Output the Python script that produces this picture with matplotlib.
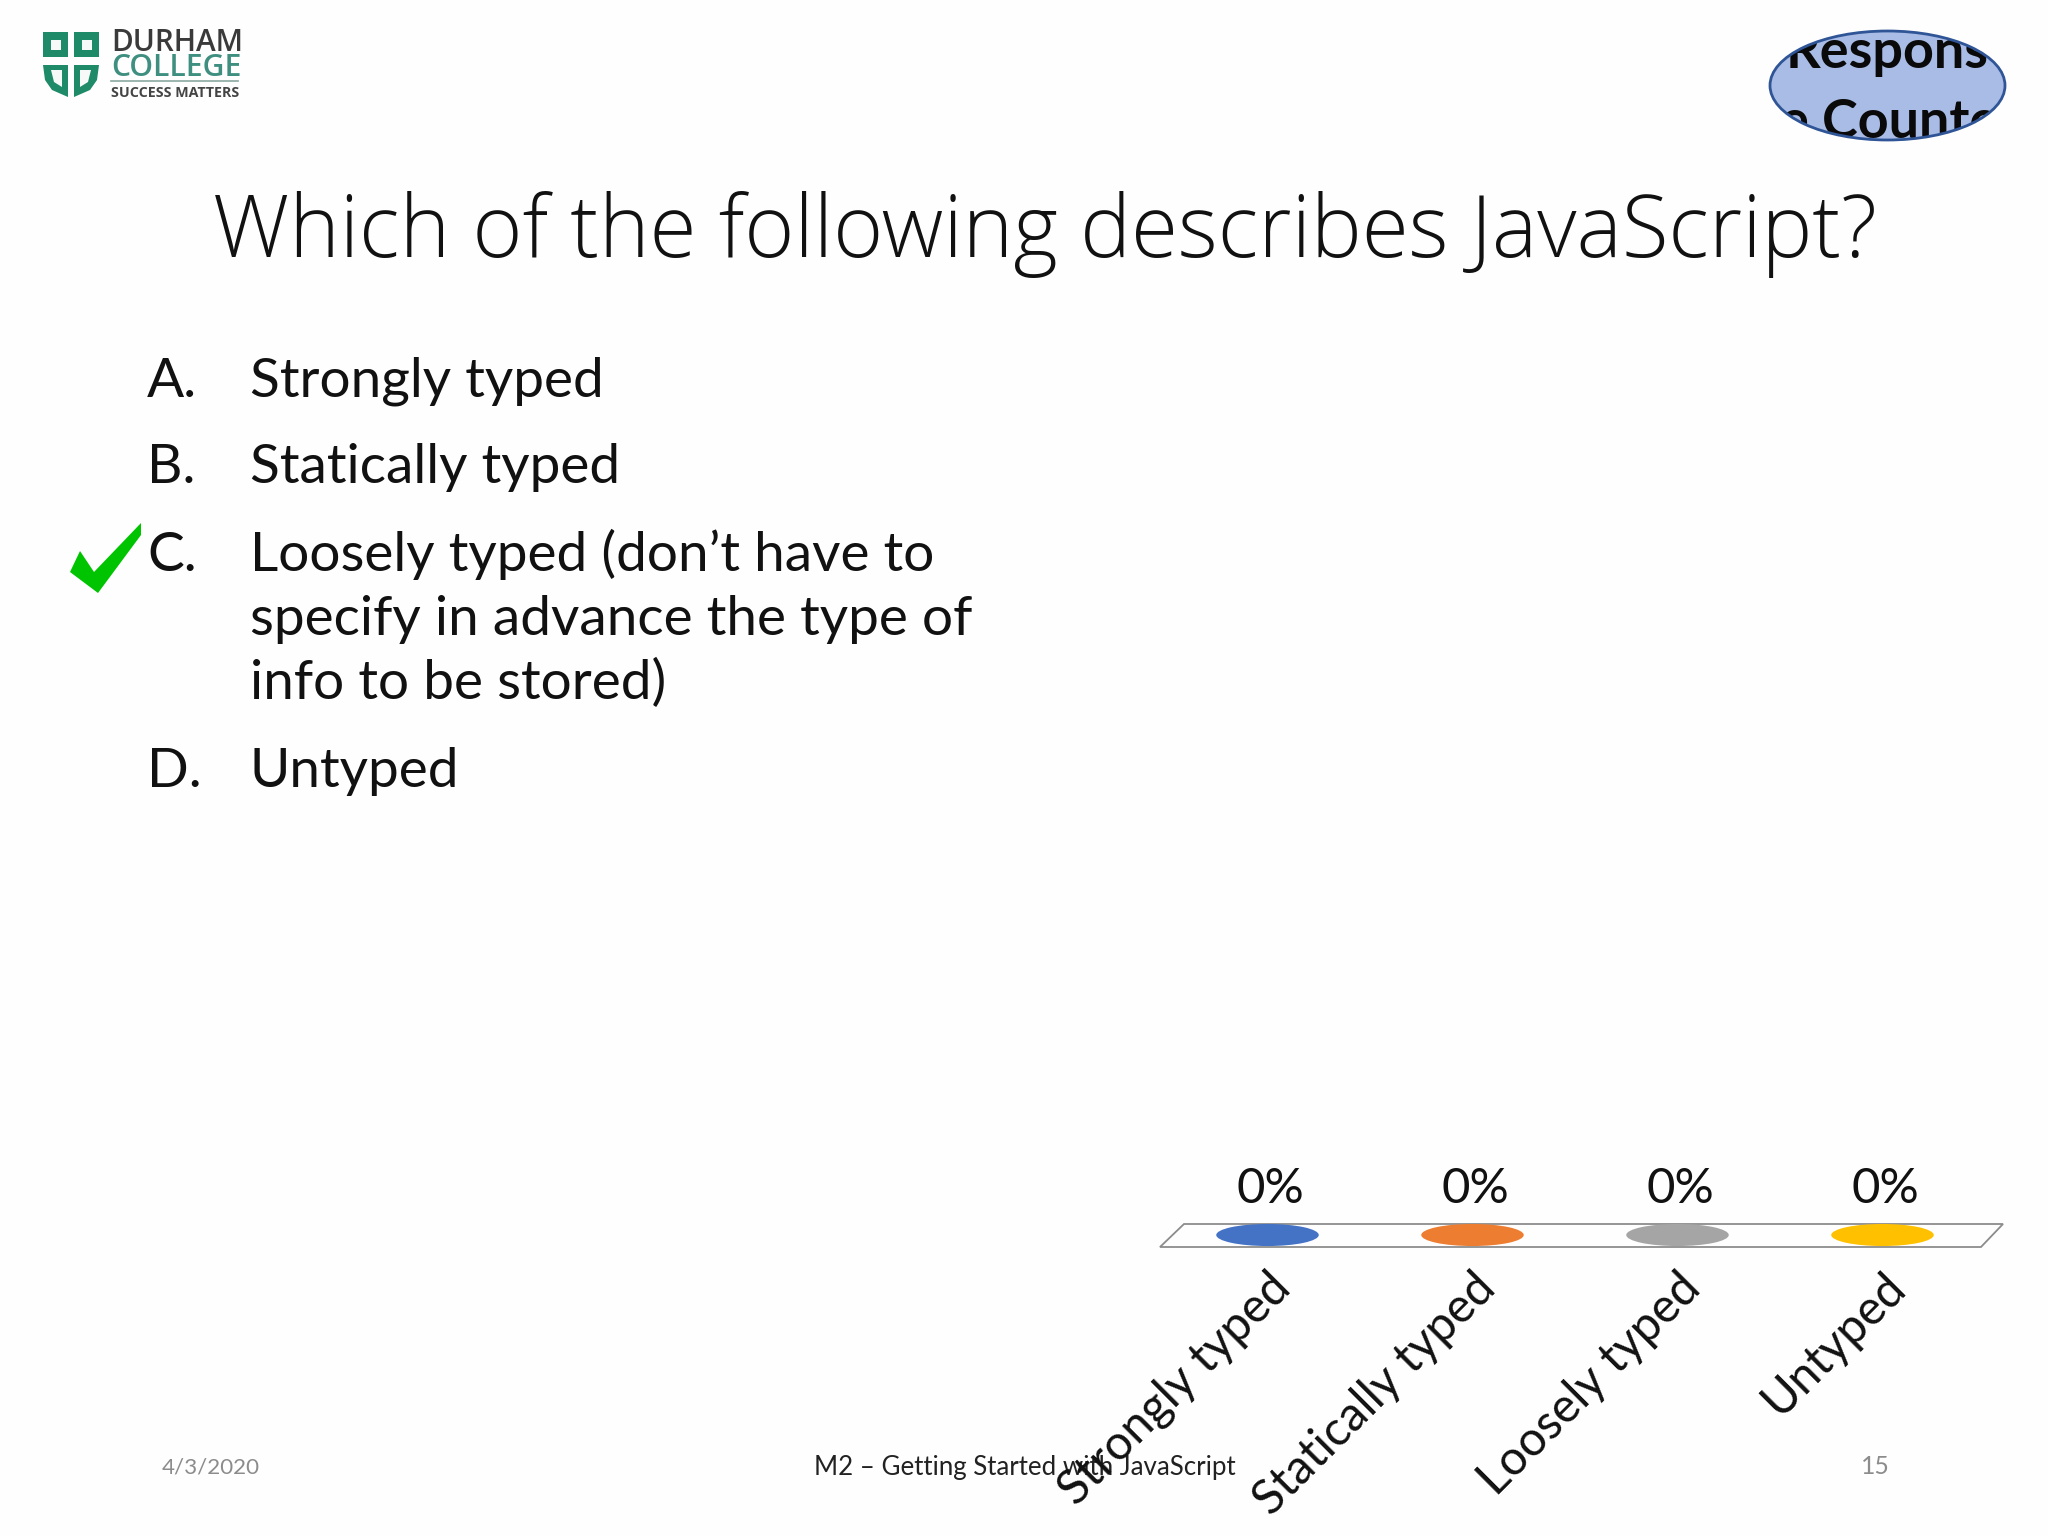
import matplotlib
matplotlib.use("Agg")
import matplotlib.pyplot as plt
from matplotlib.patches import Ellipse, Polygon, Rectangle, PathPatch
from matplotlib.path import Path
from matplotlib.transforms import Affine2D
from matplotlib.font_manager import FontProperties
from matplotlib.textpath import TextPath

categories = ["Strongly typed", "Statically typed", "Loosely typed", "Untyped"]
percentages = [0, 0, 0, 0]
bar_colors = ["#4472c4", "#ed7d31", "#a5a5a5", "#ffc000"]
title_text = "Which of the following describes JavaScript?"
answer_letters = ["A.", "B.", "C.", "", "", "D."]
answer_lines = ["Strongly typed", "Statically typed", "Loosely typed (don’t have to",
                "specify in advance the type of", "info to be stored)", "Untyped"]
footer_date = "4/3/2020"
footer_title = "M2 – Getting Started with JavaScript"
footer_page = "15"

DPI = 100
BODY = "Lato"
HEAD = "Open Sans"
PAPER = "#fefefe"


def size_for(text, px, weight="normal", family=BODY):
    fp = FontProperties(family=family, weight=weight)
    w = TextPath((0, 0), text, size=100, prop=fp).get_extents().width
    return px * 72 / DPI * 100 / w


fig = plt.figure(figsize=(20.48, 15.36), dpi=DPI, facecolor=PAPER)
page = fig.add_axes([0, 0, 1, 1])
page.set_xlim(0, 2048)
page.set_ylim(1536, 0)
page.axis("off")

# title
page.text(213, 257, title_text, family=HEAD, weight="light",
          fontsize=size_for(title_text, 1659, "light", HEAD), color="#111111", va="baseline")

# answers
body_fs = size_for(answer_lines[3], 720)
baselines = [397, 483, 571, 635, 699, 787]
for letter, line, y in zip(answer_letters, answer_lines, baselines):
    if letter:
        page.text(147, y, letter, family=BODY, fontsize=body_fs, color="#111111", va="baseline")
    page.text(250, y, line, family=BODY, fontsize=body_fs, color="#111111", va="baseline")

# check mark
page.add_patch(Polygon([(70, 572), (80, 551), (94, 572), (141, 523), (141, 535), (98, 593)],
                       closed=True, fc="#00c400", ec="none"))

# logo
green = "#1f8a68"
for x0 in (43, 74):
    page.add_patch(Rectangle((x0, 32), 25, 25, fc=green, ec="none"))
    page.add_patch(Rectangle((x0 + 8, 40), 10, 10, fc="#f6f9f8", ec="none"))
page.add_patch(Polygon([(43, 65), (68, 65), (68, 97), (52, 90), (45, 80)], closed=True, fc=green, ec="none"))
page.add_patch(Polygon([(74, 65), (99, 65), (97, 80), (90, 90), (74, 97)], closed=True, fc=green, ec="none"))
page.add_patch(Polygon([(51, 70), (62, 70), (62, 87), (54, 82)], closed=True, fc="#f6f9f8", ec="none"))
page.add_patch(Polygon([(80, 70), (91, 70), (88, 82), (80, 87)], closed=True, fc="#f6f9f8", ec="none"))
page.text(111, 51, "DURHAM", family="Open Sans", weight="semibold",
          fontsize=size_for("DURHAM", 127, "semibold", "Open Sans"), color="#3a3a3a", va="baseline")
page.text(111, 76, "COLLEGE", family="Open Sans", weight="semibold",
          fontsize=size_for("COLLEGE", 127, "semibold", "Open Sans"), color="#3f8f80", va="baseline")
page.plot([111, 238], [81, 81], color="#8aa8a0", lw=1.2)
page.text(111, 97, "SUCCESS MATTERS", family="Open Sans", weight="bold",
          fontsize=size_for("SUCCESS MATTERS", 127, "bold", "Open Sans"), color="#444444", va="baseline")

# response counter bubble: the text overflows the ellipse and is hidden outside it
cx, cy, w, h = 1887.5, 85.5, 235, 109
page.add_patch(Ellipse((cx, cy), w, h, fc="#a9bce6", ec="none", zorder=2))
bold_fs = size_for("Respons", 197, "bold")
for s, x, y in (("Respons", 1887, 68), ("e Counter", 1899, 138)):
    page.text(x, y, s, family=BODY, weight="bold", fontsize=bold_fs,
              color="#0a0a0a", ha="center", va="baseline", zorder=3)
hole = Path.unit_circle().transformed(Affine2D().scale(w / 2, h / 2).translate(cx, cy))
outer = Path([(1740, 0), (1740, 170), (2048, 170), (2048, 0), (1740, 0)],
             [Path.MOVETO, Path.LINETO, Path.LINETO, Path.LINETO, Path.CLOSEPOLY])
page.add_patch(PathPatch(Path.make_compound_path(outer, hole), fc=PAPER, ec="none", zorder=4))
page.add_patch(Ellipse((cx, cy), w, h, fc="none", ec="#2f5597", lw=2, zorder=5))

# footer
page.text(162, 1473, footer_date, family=BODY, fontsize=size_for(footer_date, 97), color="#8c8c8c", va="baseline")
page.text(814, 1475, footer_title, family=BODY, fontsize=size_for(footer_title, 420), color="#222222", va="baseline")
page.text(1861, 1474, footer_page, family=BODY, fontsize=size_for(footer_page, 25), color="#8c8c8c", va="baseline")

# chart floor (decoration of the 3-D chart)
page.add_patch(Polygon([(1160, 1247), (1981, 1247), (2003, 1224), (1184, 1224)], closed=True,
                       fc="none", ec="#8c8c8c", lw=1.3))

# chart
L, R, T, B = 1165, 1985, 1223, 1247
ax = fig.add_axes([L / 2048, 1 - B / 1536, (R - L) / 2048, (B - T) / 1536], facecolor="none")
ax.set_xlim(-0.5, 3.5)
ax.set_ylim(-0.5, 0.5)
for i, (v, c) in enumerate(zip(percentages, bar_colors)):
    ax.add_patch(Ellipse((i, v), 0.5, 0.92, fc=c, ec="none"))
    ax.annotate(f"{v}%", (i, v), xytext=(2, 23), textcoords="offset points", ha="center", va="baseline",
                family=BODY, fontsize=size_for("0%", 61) * 1.05, color="#111111")
ax.set_yticks([])
ax.set_xticks(range(len(categories)))
ax.set_xticklabels(categories, rotation=45, ha="right", va="top", rotation_mode="anchor",
                   family=BODY, fontsize=size_for(categories[0], 302), color="#111111")
ax.tick_params(axis="x", length=0, pad=13)
for s in ax.spines.values():
    s.set_visible(False)

fig.savefig("out.png", dpi=DPI, facecolor=fig.get_facecolor())
